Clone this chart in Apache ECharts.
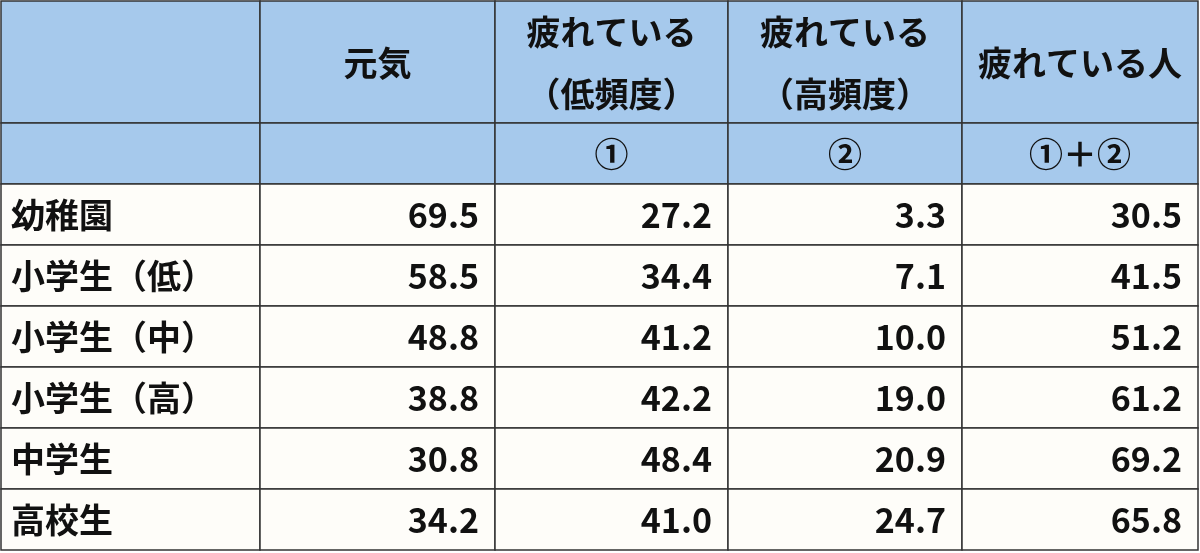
<!DOCTYPE html>
<html><head><meta charset="utf-8">
<script src="https://cdn.jsdelivr.net/npm/echarts@6/dist/echarts.min.js"></script>
<style>html,body{margin:0;padding:0;background:#fff}#c{width:1200px;height:553px}</style>
</head><body><div id="c"></div>
<script>
const headers = ['', '元気', '疲れている\n（低頻度）', '疲れている\n（高頻度）', '疲れている人'];
const subHeaders = ['', '', '①', '②', '①＋②'];
const categories = ['幼稚園', '小学生（低）', '小学生（中）', '小学生（高）', '中学生', '高校生'];
const genki = ['69.5', '58.5', '48.8', '38.8', '30.8', '34.2'];
const lowFreq = ['27.2', '34.4', '41.2', '42.2', '48.4', '41.0'];
const highFreq = ['3.3', '7.1', '10.0', '19.0', '20.9', '24.7'];
const tiredTotal = ['30.5', '41.5', '51.2', '61.2', '69.2', '65.8'];

const colEdges = [1, 260, 495, 728, 962, 1198];
const rowEdges = [1, 123, 184, 245, 306, 367, 428, 489, 550];
const cells = [];
function add(r, c, text, align, bg, lh) {
  cells.push([colEdges[c], colEdges[c+1], rowEdges[r], rowEdges[r+1], text, align, bg, lh || 0]);
}
headers.forEach((h, c) => add(0, c, h, 'center', '#a6c9ec', 62));
subHeaders.forEach((h, c) => add(1, c, h, 'center', '#a6c9ec'));
const cols = [categories, genki, lowFreq, highFreq, tiredTotal];
categories.forEach((_, i) => cols.forEach((col, c) => add(i + 2, c, col[i], c === 0 ? 'left' : 'right', '#fefdf9')));

const chart = echarts.init(document.getElementById('c'));
chart.setOption({
  animation: false,
  grid: {left: 0, right: 0, top: 0, bottom: 0},
  xAxis: {type: 'value', min: 0, max: 1200, show: false},
  yAxis: {type: 'value', min: 0, max: 553, inverse: true, show: false},
  series: [{
    type: 'custom',
    data: cells,
    renderItem: (params, api) => {
      const d = cells[params.dataIndex];
      const p0 = api.coord([d[0], d[2]]);
      const p1 = api.coord([d[1], d[3]]);
      const w = p1[0] - p0[0], h = p1[1] - p0[1];
      let tx = p0[0] + w / 2;
      if (d[5] === 'left') tx = p0[0] + 10;
      if (d[5] === 'right') tx = p1[0] - 16;
      return {
        type: 'group',
        children: [
          {type: 'rect', shape: {x: p0[0], y: p0[1], width: w, height: h},
           style: {fill: d[6], stroke: '#333', lineWidth: 1.5}},
          {type: 'text', style: {x: tx, y: p0[1] + h / 2 + 1, text: d[4], align: d[5], verticalAlign: 'middle',
            fill: '#111', font: 'bold 34px "Noto Sans CJK JP"', lineHeight: d[7] || undefined}}
        ]
      };
    }
  }]
});
</script></body></html>
